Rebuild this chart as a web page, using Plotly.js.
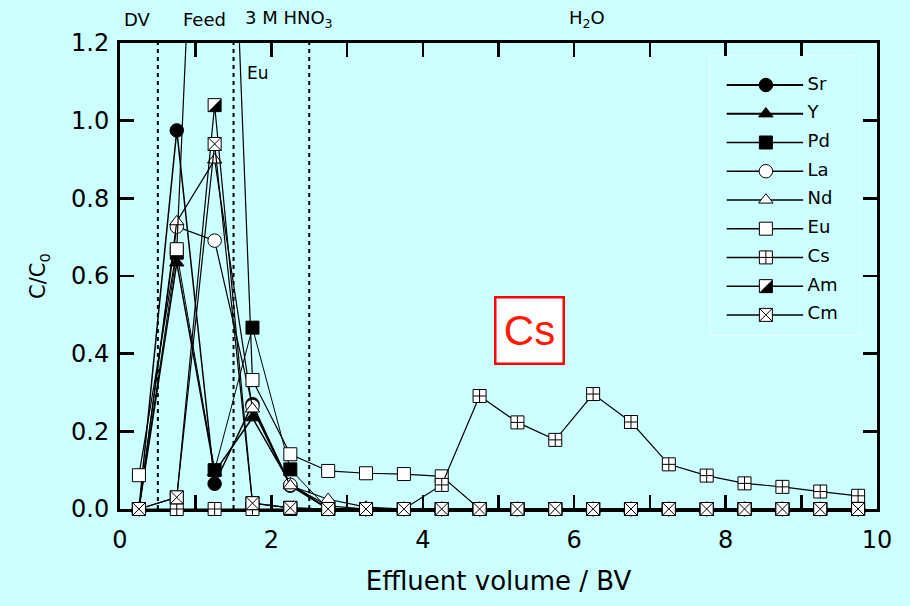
<!DOCTYPE html>
<html>
<head>
<meta charset="utf-8">
<script src="https://cdn.plot.ly/plotly-3.0.1.min.js"></script>
<style>
  html, body { margin: 0; padding: 0; background: #ccffff; }
  #chart { width: 910px; height: 606px; }
</style>
</head>
<body>
<div id="chart"></div>
<script>
// Effluent volume (bed volumes) at the midpoint of each collected fraction
const volume = [0.25, 0.75, 1.25, 1.75, 2.25, 2.75, 3.25, 3.75, 4.25, 4.75,
                5.25, 5.75, 6.25, 6.75, 7.25, 7.75, 8.25, 8.75, 9.25, 9.75];

// C/C0 of each element in each fraction
const sr = [0, 0.975, 0.065, 0.27, 0.06, 0, 0, 0, 0, 0, 0, 0, 0, 0, 0, 0, 0, 0, 0, 0];
const yt = [0, 0.634, 0.095, 0.235, 0.065, 0, 0, 0, 0, 0, 0, 0, 0, 0, 0, 0, 0, 0, 0, 0];
const pd = [0, 0.66, 0.10, 0.467, 0.102, 0, 0, 0, 0, 0, 0, 0, 0, 0, 0, 0, 0, 0, 0, 0];
const la = [0, 0.727, 0.691, 0.265, 0.062, 0.008, 0, 0, 0, 0, 0, 0, 0, 0, 0, 0, 0, 0, 0, 0];
const nd = [0, 0.74, 0.899, 0.258, 0.06, 0.025, 0.005, 0, 0, 0, 0, 0, 0, 0, 0, 0, 0, 0, 0, 0];
const eu = [0.087, 0.669, 2.85, 0.332, 0.141, 0.098, 0.092, 0.09, 0.084, 0, 0, 0, 0, 0, 0, 0, 0, 0, 0, 0];
const cs = [0, 0, 0, 0, 0, 0, 0, 0, 0.062, 0.291, 0.223, 0.178, 0.296, 0.224, 0.115, 0.086, 0.066, 0.057, 0.045, 0.034];
const am = [0, 0.03, 1.04, 0.015, 0.003, 0, 0, 0, 0, 0, 0, 0, 0, 0, 0, 0, 0, 0, 0, 0];
const cm = [0, 0.03, 0.94, 0.015, 0.003, 0, 0, 0, 0, 0, 0, 0, 0, 0, 0, 0, 0, 0, 0, 0];

const elements = ['Sr', 'Y', 'Pd', 'La', 'Nd', 'Eu', 'Cs', 'Am', 'Cm'];
const seriesValues = [sr, yt, pd, la, nd, eu, cs, am, cm];

// Eluent steps along the column run
const stepNames = ['DV', 'Feed', '3 M HNO<sub>3</sub>', 'H<sub>2</sub>O'];
const stepBounds = [0.5, 1.5, 2.5];

const xTickVals = [0, 2, 4, 6, 8, 10];
const xTickText = ['0', '2', '4', '6', '8', '10'];

// ---- styling ----
const BG = '#ccffff';
const FONT = 'DejaVu Sans, Verdana, sans-serif';
const INK = '#000';

const markStyle = {
  Sr: { symbol: 'circle',       fill: INK,    size: 13.5, lw: 1.5 },
  Y:  { symbol: 'triangle-up',  fill: INK,    size: 12.5, lw: 1.5 },
  Pd: { symbol: 'square',       fill: INK,    size: 13,   lw: 1.0 },
  La: { symbol: 'circle',       fill: '#fff', size: 13.5, lw: 1.2 },
  Nd: { symbol: 'triangle-up',  fill: '#fff', size: 12.5, lw: 1.2 },
  Eu: { symbol: 'square',       fill: '#fff', size: 13,   lw: 1.2 },
  Cs: { symbol: 'square-cross', fill: '#fff', size: 13,   lw: 1.2 },
  Am: { symbol: 'square',       fill: '#fff', size: 13,   lw: 1.2, half: true },
  Cm: { symbol: 'square-x',     fill: '#fff', size: 13,   lw: 1.2 }
};

// step label placement (left edge in x units) and legend geometry (fractions of the key box)
const stepLabelX = [0.02, 0.81, 1.62, 5.9];
const keyLine = [0.112, 0.625];
const keyMark = 0.375;
const keyText = 0.655;

const traces = [];

elements.forEach((el, i) => {
  const st = markStyle[el];
  traces.push({
    type: 'scatter', mode: 'lines+markers', name: el,
    x: volume, y: seriesValues[i],
    xaxis: 'x', yaxis: 'y',
    cliponaxis: false, showlegend: false, hoverinfo: 'skip',
    line: { color: INK, width: st.lw },
    marker: { symbol: st.symbol, size: st.size, color: st.fill,
              line: { color: INK, width: 1 } }
  });
  if (st.half) {
    traces.push({
      type: 'scatter', mode: 'markers', name: el + '-half',
      x: volume, y: seriesValues[i],
      xaxis: 'x', yaxis: 'y',
      cliponaxis: false, showlegend: false, hoverinfo: 'skip',
      marker: { symbol: 'square', size: st.size, color: INK, line: { width: 0 } }
    });
  }
});

// key: one row per element, drawn on its own small subplot
elements.forEach((el, i) => {
  const st = markStyle[el];
  traces.push({
    type: 'scatter', mode: 'lines', x: keyLine, y: [i, i],
    xaxis: 'x2', yaxis: 'y2', showlegend: false, hoverinfo: 'skip',
    line: { color: INK, width: st.lw + 0.3 }
  });
  traces.push({
    type: 'scatter', mode: 'markers', name: el + '-key',
    x: [keyMark], y: [i],
    xaxis: 'x2', yaxis: 'y2', showlegend: false, hoverinfo: 'skip',
    marker: { symbol: st.symbol, size: st.size, color: st.fill,
              line: { color: INK, width: 1 } }
  });
  if (st.half) {
    traces.push({
      type: 'scatter', mode: 'markers', name: el + '-half',
      x: [keyMark], y: [i],
      xaxis: 'x2', yaxis: 'y2', showlegend: false, hoverinfo: 'skip',
      marker: { symbol: 'square', size: st.size, color: INK, line: { width: 0 } }
    });
  }
});
traces.push({
  type: 'scatter', mode: 'text',
  x: elements.map(() => keyText), y: elements.map((_, i) => i),
  text: elements, textposition: 'middle right',
  textfont: { family: FONT, size: 18, color: INK },
  xaxis: 'x2', yaxis: 'y2', showlegend: false, hoverinfo: 'skip'
});

const shapes = stepBounds.map(b => ({
  type: 'line', xref: 'x', yref: 'y domain', x0: b, x1: b, y0: 0, y1: 1,
  layer: 'below', line: { color: INK, width: 2, dash: '4px,4px' }
}));
shapes.push({
  type: 'rect', xref: 'x2 domain', yref: 'y2 domain', x0: 0, x1: 1, y0: 0, y1: 1,
  layer: 'below', line: { color: '#ffffff', width: 1 }
});

const annotations = stepNames.map((t, i) => ({
  text: t, xref: 'x', yref: 'paper', x: stepLabelX[i], y: 1.0515,
  xanchor: 'left', yanchor: 'middle', showarrow: false,
  font: { family: FONT, size: 18, color: INK }
}));
annotations.push({
  text: 'Eu', xref: 'x', yref: 'y', x: 1.65, y: 1.123,
  xanchor: 'left', yanchor: 'middle', showarrow: false,
  font: { family: FONT, size: 17, color: INK }
});
annotations.push({
  text: 'Cs', xref: 'x', yref: 'y', x: 5.416, y: 0.46,
  xanchor: 'center', yanchor: 'middle', showarrow: false,
  width: 64, height: 62, bgcolor: '#ffffff',
  bordercolor: '#ff0000', borderwidth: 2.5, borderpad: 1,
  font: { family: 'Liberation Sans, Arial, sans-serif', size: 42, color: '#ff1a00' }
});

const axisCommon = {
  showline: true, linecolor: INK, linewidth: 3, mirror: 'ticks',
  ticks: 'inside', ticklen: 14, tickwidth: 2.5, tickcolor: INK,
  showgrid: false, zeroline: false, layer: 'below traces',
  tickfont: { family: FONT, size: 24, color: INK }
};

const layout = {
  width: 910, height: 606,
  paper_bgcolor: BG, plot_bgcolor: BG,
  margin: { l: 120, r: 33, t: 43, b: 97 },
  showlegend: false,
  xaxis: Object.assign({}, axisCommon, {
    range: [0, 10], tickmode: 'array', tickvals: xTickVals, ticktext: xTickText,
    ticklabelstandoff: 7,
    minor: { dtick: 1, tick0: 0, ticks: 'inside', ticklen: 14, tickwidth: 2.5, tickcolor: INK },
    title: { text: 'Effluent volume / BV', standoff: 20,
             font: { family: FONT, size: 26, color: INK } }
  }),
  yaxis: Object.assign({}, axisCommon, {
    range: [0, 1.2], tickmode: 'linear', tick0: 0, dtick: 0.2, tickformat: '.1f',
    ticklabelstandoff: 3,
    title: { text: 'C/C<sub>0</sub>', standoff: 20,
             font: { family: FONT, size: 21, color: INK } }
  }),
  xaxis2: { domain: [0.7794, 0.9762], range: [0, 1], visible: false, anchor: 'y2' },
  yaxis2: { domain: [0.3734, 0.9721], range: [8.70, -1.01], visible: false, anchor: 'x2' },
  shapes: shapes,
  annotations: annotations
};

// Lower-right half of a square of the given marker size, for the half-filled Am symbol
function halfSquarePath(size) {
  const r = size / 2;
  return 'M' + r + ',' + (-r) + 'V' + r + 'H' + (-r) + 'Z';
}

Plotly.newPlot('chart', traces, layout, { staticPlot: true, displayModeBar: false })
  .then(gd => {
    gd.querySelectorAll('g.trace').forEach(g => {
      const cd = g.__data__;
      if (!cd || !cd[0] || !cd[0].trace) return;
      const tr = cd[0].trace;
      if (typeof tr.name === 'string' && tr.name.endsWith('-half')) {
        const p = halfSquarePath(tr.marker.size);
        g.querySelectorAll('path.point').forEach(pt => pt.setAttribute('d', p));
      }
    });
  });
</script>
</body>
</html>
